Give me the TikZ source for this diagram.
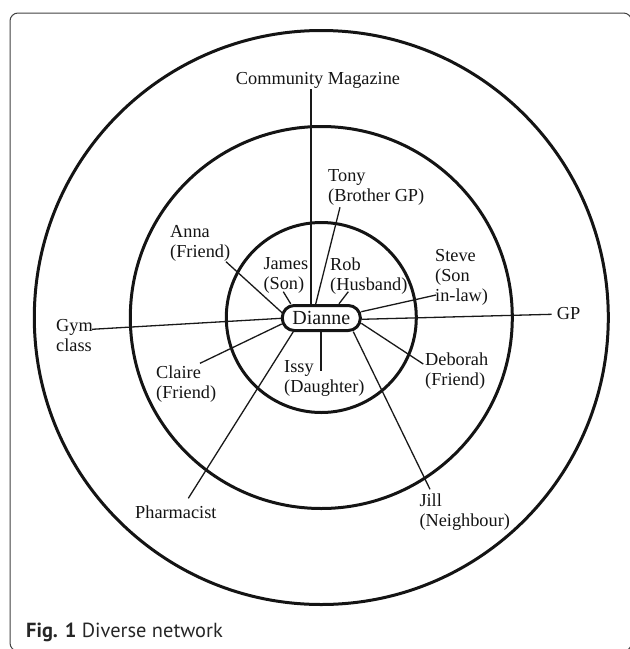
\documentclass[tikz,border=0pt]{standalone}
\usepackage{fontspec}
\setmainfont{Liberation Serif}
\newfontfamily\capfont{PT Sans}
\usetikzlibrary{calc}
\begin{document}
\begin{tikzpicture}[x=1pt,y=-1pt,
  ring/.style={line width=3pt, draw=black!92},
  link/.style={line width=1.3pt, draw=black!90},
  lbl/.style={anchor=north west, inner sep=0pt, align=left, font=\fontsize{18.3}{20}\selectfont, text=black!92},
  centerbox/.style={draw=black!92, line width=3pt, rounded corners=12pt, minimum width=78pt, minimum height=25pt, inner sep=0pt, fill=white, font=\fontsize{20}{22}\selectfont, text=black!92}
]
\useasboundingbox (0,0) rectangle (630,649);
\begin{scope}
  \clip (0,0) rectangle (630,649);
  \draw[line width=1pt, draw=black!75, rounded corners=8pt] (10,13) rectangle (631.5,651);
\end{scope}
% rings
\coordinate (O) at (321.3,317.5);
\draw[ring] (O) circle[radius=95];
\draw[ring] (O) circle[radius=191];
\draw[ring] (O) circle[radius=287];
% centre
\node[centerbox] (D) at (321.3,318) {Dianne};
% labels
\node[lbl, anchor=north] (cm) at (318,71.7) {Community Magazine};
\node[lbl] (tony) at (328,169) {Tony\\(Brother GP)};
\node[lbl] (james) at (263.3,257.5) {James\\(Son)};
\node[lbl] (rob) at (330,257.5) {Rob\\(Husband)};
\node[lbl] (anna) at (170,225) {Anna\\(Friend)};
\node[lbl] (gym) at (56,319) {Gym\\class};
\node[lbl] (claire) at (156,365.7) {Claire\\(Friend)};
\node[lbl] (pharm) at (135,505.7) {Pharmacist};
\node[lbl] (issy) at (284,360.7) {Issy\\(Daughter)};
\node[lbl] (jill) at (419.3,493.3) {Jill\\(Neighbour)};
\node[lbl] (steve) at (435,249.3) {Steve\\(Son\\in-law)};
\node[lbl] (gp) at (556.7,307.3) {GP};
\node[lbl] (deb) at (425,352.3) {Deborah\\(Friend)};
% connector ends near labels
\coordinate (cmE) at (311,89);
\coordinate (tonyE) at (340,207.3);
\coordinate (jamesE) at (283.3,291.7);
\coordinate (robE) at (348.3,291.7);
\coordinate (annaE) at (226,261.7);
\coordinate (gymE) at (92,329.3);
\coordinate (claireE) at (200,363.3);
\coordinate (pharmE) at (188.3,498.3);
\coordinate (issyE) at (321,370.7);
\coordinate (jillE) at (430,489.3);
\coordinate (debE) at (423.3,364);
\coordinate (gpE) at (551.7,314.3);
\coordinate (steveE) at (436,295);
% connectors
\draw[link] (cmE) -- ([shift={(-10.3,-14)}]D.center);
\draw[link] (tonyE) -- ([shift={(-5.6,-14)}]D.center);
\draw[link] (jamesE) -- ([shift={(-30.6,-14.2)}]D.center);
\draw[link] (robE) -- ([shift={(17.7,-14.2)}]D.center);
\draw[link] (annaE) -- ([shift={(-38.6,-4.7)}]D.center);
\draw[link] (gymE) -- ([shift={(-40,0.3)}]D.center);
\draw[link] (claireE) -- ([shift={(-39.6,6)}]D.center);
\draw[link] (pharmE) -- ([shift={(-28,13.7)}]D.center);
\draw[link] (issyE) -- ([shift={(-0.3,13.7)}]D.center);
\draw[link] (jillE) -- ([shift={(32,13.7)}]D.center);
\draw[link] (debE) -- ([shift={(40,5.3)}]D.center);
\draw[link] (gpE) -- ([shift={(40,1.3)}]D.center);
\draw[link] (steveE) -- ([shift={(40,-6.3)}]D.center);
% caption
\node[anchor=base west, inner sep=0pt, font=\capfont\fontsize{20.4}{24}\selectfont, text=black!85] (caption) at (26,637) {\textbf{Fig. 1} Diverse network};
\end{tikzpicture}
\end{document}
